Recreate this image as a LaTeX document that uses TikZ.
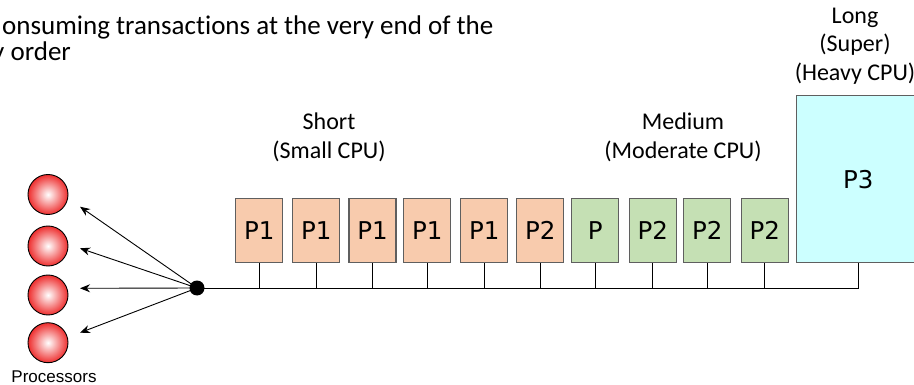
\documentclass[tikz,border=0pt]{standalone}
\usepackage{fontspec}
\setmainfont{Carlito}[Ligatures=CommonOff]
\newfontfamily\vfont{DejaVu Sans}
\newfontfamily\afont{Liberation Sans}
\usetikzlibrary{arrows.meta}
\definecolor{orangefill}{HTML}{F8CBAD}
\definecolor{greenfill}{HTML}{C5E0B4}
\definecolor{cyanfill}{HTML}{CCFFFF}
\definecolor{boxline}{HTML}{5F5F5F}
\definecolor{procred}{HTML}{EE2E2E}
\tikzset{
  proc/.style={rectangle, draw=boxline, line width=1.2pt, minimum width=47pt, minimum height=64pt,
    inner sep=0pt, font=\vfont\fontsize{24.5}{28}\selectfont},
  shortbox/.style={proc, fill=orangefill},
  medbox/.style={proc, fill=greenfill},
  longbox/.style={proc, fill=cyanfill, minimum width=123pt, minimum height=167pt},
  cpu/.style={circle, draw=black, line width=0.9pt, minimum size=40pt, inner sep=0pt,
    inner color=white, outer color=procred},
  grp/.style={align=center, font=\fontsize{24}{28.5}\selectfont, inner sep=0pt},
  stem/.style={line width=0.9pt},
  arr/.style={line width=0.9pt, -{Stealth[length=10pt,width=8pt]}},
  ttl/.style={anchor=base west, inner sep=0pt, font=\fontsize{27}{30}\selectfont},
}
\begin{document}
\begin{tikzpicture}[x=1pt,y=-1pt]
\useasboundingbox (0,0) rectangle (914,385);
% title
\node[ttl] (t1) at (2,35) {onsuming transactions at the very end of the};
\node[ttl] (t2) at (-8,60.5) {y order};
% group labels
\node[grp] (lshort) at (329,137.5) {Short\\(Small CPU)};
\node[grp] (lmed) at (683,137.5) {Medium\\(Moderate CPU)};
\node[grp] (llong) at (855,46) {Long\\(Super)\\(Heavy CPU)};
% boxes
\node[shortbox] (b1) at (259.3,230.5) {P1};
\node[shortbox] (b2) at (316.3,230.5) {P1};
\node[shortbox] (b3) at (372.5,230.5) {P1};
\node[shortbox] (b4) at (427.3,230.5) {P1};
\node[shortbox] (b5) at (484.3,230.5) {P1};
\node[shortbox] (b6) at (540.3,230.5) {P2};
\node[medbox] (g1) at (595.3,230.8) {P};
\node[medbox] (g2) at (652.7,230.8) {P2};
\node[medbox] (g3) at (707.3,230.8) {P2};
\node[medbox] (g4) at (764.7,230.8) {P2};
\node[longbox] (p3) at (858.3,179.2) {P3};
% hub
\node[circle, fill=black, minimum size=15pt, inner sep=0pt] (hub) at (197,288) {};
% bus
\draw[stem] (hub.center) -- (p3.south |- hub.center) -- (p3.south);
\foreach \b in {b1,b2,b3,b4,b5,b6,g1,g2,g3,g4}
  \draw[stem] (\b.south) -- (\b.south |- hub.center);
% processors
\node[cpu] (c1) at (48,194.5) {};
\node[cpu] (c2) at (48,246) {};
\node[cpu] (c3) at (48,295) {};
\node[cpu] (c4) at (48,342.7) {};
\node[font=\afont\fontsize{17}{20}\selectfont, inner sep=0pt] (plabel) at (54,377) {Processors};
\coordinate (a1) at (80,206.7);
\coordinate (a2) at (80,248.3);
\coordinate (a3) at (80,288.3);
\coordinate (a4) at (80,332.7);
\foreach \a in {a1,a2,a3,a4}
  \draw[arr] (hub.center) -- (\a);
\end{tikzpicture}
\end{document}
